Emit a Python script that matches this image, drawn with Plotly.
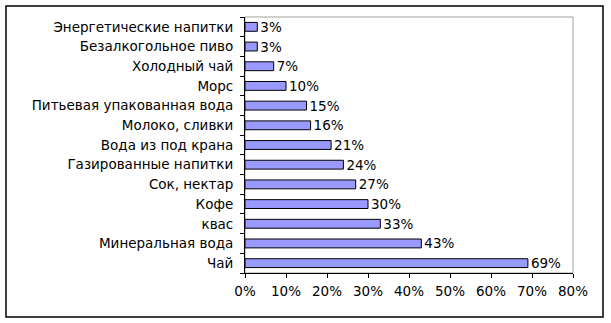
import plotly.graph_objects as go

categories = ["Чай", "Минеральная вода", "квас", "Кофе", "Сок, нектар",
              "Газированные напитки", "Вода из под крана", "Молоко, сливки",
              "Питьевая упакованная вода", "Морс", "Холодный чай",
              "Безалкогольное пиво", "Энергетические напитки"]
values = [0.69, 0.43, 0.33, 0.30, 0.27, 0.24, 0.21, 0.16, 0.15, 0.10, 0.07, 0.03, 0.03]
x_ticks = [0, 0.1, 0.2, 0.3, 0.4, 0.5, 0.6, 0.7, 0.8]

FONT = "DejaVu Sans"
FS = 13.5

fig = go.Figure(go.Bar(
    x=values, y=categories, orientation="h",
    marker=dict(color="#9999FF", line=dict(color="black", width=1)),
    width=0.45,
    texttemplate="%{x:.0%}", textposition="outside",
    constraintext="none",
    textfont=dict(family=FONT, size=FS, color="black"),
    cliponaxis=False,
))

fig.update_layout(
    width=611, height=323,
    margin=dict(l=245, r=38, t=17, b=50),
    paper_bgcolor="white", plot_bgcolor="white",
    font=dict(family=FONT, size=FS, color="black"),
    showlegend=False,
    bargap=0.55,
    xaxis=dict(range=[0, 0.8], tickvals=x_ticks, tickformat=".0%",
               showgrid=False, zeroline=False, showline=True, linecolor="black",
               linewidth=1, ticks="outside", ticklen=4, tickcolor="black",
               ticklabelstandoff=2,
               tickfont=dict(family=FONT, size=FS)),
    yaxis=dict(categoryorder="array", categoryarray=categories,
               showgrid=False, zeroline=False, showline=True, linecolor="black",
               linewidth=1, ticks="outside", ticklen=4, tickcolor="black",
               tickson="boundaries", ticklabelstandoff=8,
               tickfont=dict(family=FONT, size=FS)),
    shapes=[
        dict(type="rect", xref="x domain", yref="y domain", x0=0, x1=1, y0=0, y1=1,
             line=dict(color="#A0A0A0", width=1), layer="below"),
        dict(type="rect", xref="paper", yref="paper", x0=-0.7287, x1=1.0915,
             y0=-0.1719, y1=1.043, line=dict(color="black", width=1.5)),
    ],
)

fig.write_html("out.html")
